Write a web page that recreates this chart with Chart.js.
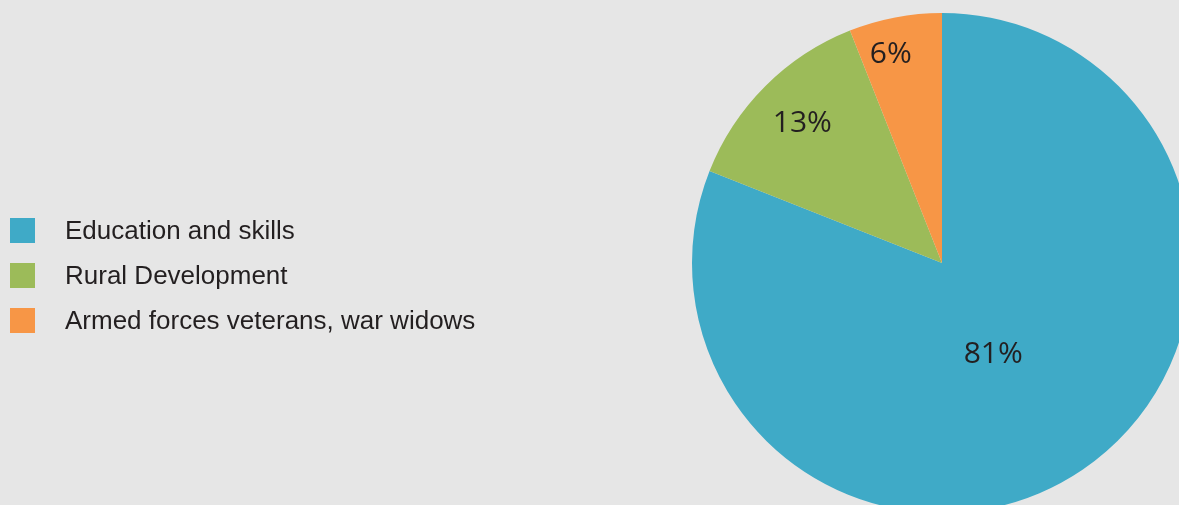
<!DOCTYPE html>
<html lang="en">
<head>
    <meta charset="UTF-8">
    <title>Spending by area</title>
    <script src="https://cdn.jsdelivr.net/npm/chart.js"></script>
    <style>
        html, body { margin: 0; padding: 0; overflow: hidden; background: #e6e6e6; }
        body { width: 1179px; height: 505px; position: relative; }
        #wrap { position: absolute; left: 0; top: 0; width: 1200px; height: 520px; }
        #legend { position: absolute; left: 10px; top: 208px; font-family: "Liberation Sans", Arial, sans-serif; font-size: 26px; color: #231f20; }
        #legend .item { display: flex; align-items: center; height: 45px; }
        #legend .box { width: 25px; height: 25px; margin-right: 30px; }
    </style>
</head>
<body>
    <div id="wrap"><canvas id="chart" width="1200" height="520"></canvas></div>
    <div id="legend"></div>

    <script>
        const categories = ['Education and skills', 'Rural Development', 'Armed forces veterans, war widows'];
        const shares = [81, 13, 6];
        const colours = ['#3faac7', '#9cbb59', '#f79646'];

        // legend on the left, built from the same arrays
        const legend = document.getElementById('legend');
        categories.forEach((name, i) => {
            const row = document.createElement('div');
            row.className = 'item';
            row.innerHTML = '<span class="box" style="background:' + colours[i] + '"></span><span>' + name + '</span>';
            legend.appendChild(row);
        });

        // percent text inside each slice
        const sliceLabels = {
            id: 'sliceLabels',
            afterDatasetsDraw(chart, args, opts) {
                const ctx = chart.ctx;
                const arcs = chart.getDatasetMeta(0).data;
                ctx.save();
                ctx.font = '30px "Open Sans", sans-serif';
                ctx.fillStyle = '#231f20';
                ctx.textAlign = 'center';
                ctx.textBaseline = 'middle';
                arcs.forEach((arc, i) => {
                    const mid = (arc.startAngle + arc.endAngle) / 2 + opts.shift[i] * Math.PI / 180;
                    const r = arc.outerRadius * opts.radius[i];
                    ctx.fillText(shares[i] + '%', arc.x + Math.cos(mid) * r, arc.y + Math.sin(mid) * r);
                });
                ctx.restore();
            }
        };

        new Chart(document.getElementById('chart').getContext('2d'), {
            type: 'pie',
            data: {
                labels: categories,
                datasets: [{
                    data: shares,
                    backgroundColor: colours,
                    borderWidth: 0
                }]
            },
            options: {
                responsive: false,
                animation: false,
                layout: { padding: { left: 692, top: 13, right: 8, bottom: 7 } },
                plugins: {
                    legend: { display: false },
                    tooltip: { enabled: false },
                    sliceLabels: { radius: [0.42, 0.79, 0.86], shift: [5, 0, -3] }
                }
            },
            plugins: [sliceLabels]
        });
    </script>
</body>
</html>
